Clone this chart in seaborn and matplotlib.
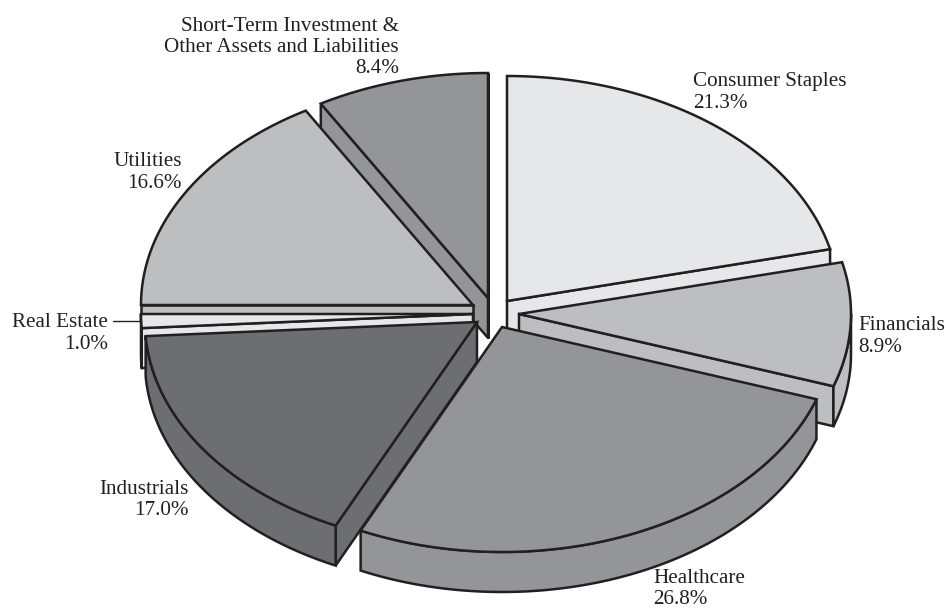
import numpy as np
import matplotlib
matplotlib.use('Agg')
import matplotlib.pyplot as plt
from matplotlib.patches import Polygon
import seaborn as sns

# Sector shares, clockwise from 12 o'clock
sectors = ['Consumer Staples', 'Financials', 'Healthcare', 'Industrials',
           'Real Estate', 'Utilities',
           'Short-Term Investment &\nOther Assets and Liabilities']
shares = [21.3, 8.9, 26.8, 17.0, 1.0, 16.6, 8.4]
grays = ['#E6E7E8', '#BCBEC0', '#939598', '#6D6E71', '#E6E7E8', '#BCBEC0', '#939598']

# Exploded wedge tips in pixels
tip_x = [507, 519, 502, 477, 473, 473, 488]
tip_y = [301, 314, 327, 322, 314, 305, 298]

# Label anchor, alignment
label_x = [693, 858, 653, 189, 108, 182, 399]
label_y = [92.5, 336.5, 589, 500, 333.5, 172.5, 47.5]
label_ha = ['left', 'left', 'left', 'right', 'right', 'right', 'right']

# back to front
draw_order = [6, 5, 0, 4, 1, 3, 2]

RX, RY, DEPTH = 332, 225, 40
EDGE = dict(edgecolor='#231F20', linewidth=1.8, joinstyle='miter')

sns.set_theme(style='white')
plt.rcParams['font.family'] = ['Liberation Serif', 'DejaVu Serif']
palette = sns.color_palette(grays)

fig, ax = plt.subplots(figsize=(9.46, 6.10), dpi=100)
ax.set_position([0, 0, 1, 1])
ax.set_xlim(0, 946)
ax.set_ylim(610, 0)
ax.axis('off')


def rim(cx, cy, a0, a1, drop=0):
    t = np.radians(np.linspace(a0, a1, 80))
    return np.column_stack([cx + RX * np.cos(t), cy - RY * np.sin(t) + drop])


def cut_face(cx, cy, a, color):
    edge_pt = rim(cx, cy, a, a)[0]
    face = [(cx, cy), edge_pt, edge_pt + [0, DEPTH], (cx, cy + DEPTH)]
    ax.add_patch(Polygon(face, closed=True, facecolor=color, **EDGE))


ends = 90 - 3.6 * np.cumsum(shares)
starts = np.concatenate([[90], ends[:-1]])

for i in draw_order:
    cx, cy = tip_x[i], tip_y[i]
    a0, a1 = starts[i], ends[i]
    color = palette[i]

    # cut faces, only the ones turned towards the viewer
    if np.cos(np.radians(a0)) < 1e-6:
        cut_face(cx, cy, a0, color)
    if np.cos(np.radians(a1)) > -1e-6:
        cut_face(cx, cy, a1, color)

    # outer side, only the front half of the ellipse shows
    lo, hi = max(a1, -180), min(a0, 0)
    if lo < hi:
        top_arc = rim(cx, cy, hi, lo)
        bottom_arc = rim(cx, cy, lo, hi, drop=DEPTH)
        ax.add_patch(Polygon(np.vstack([top_arc, bottom_arc]), closed=True,
                             facecolor=color, **EDGE))

    # top face
    top = np.vstack([[(cx, cy)], rim(cx, cy, a0, a1)])
    ax.add_patch(Polygon(top, closed=True, facecolor=color, **EDGE))

for i, name in enumerate(sectors):
    ax.text(label_x[i], label_y[i], f'{name}\n{shares[i]:.1f}%', ha=label_ha[i],
            va='center', multialignment=label_ha[i], fontsize=15.2,
            color='#231F20', linespacing=1.15)

# leader for the thin Real Estate slice
ax.plot([113, 141], [321, 321], color='#231F20', lw=1.0)

fig.savefig('out.png', dpi=100, facecolor='white')
